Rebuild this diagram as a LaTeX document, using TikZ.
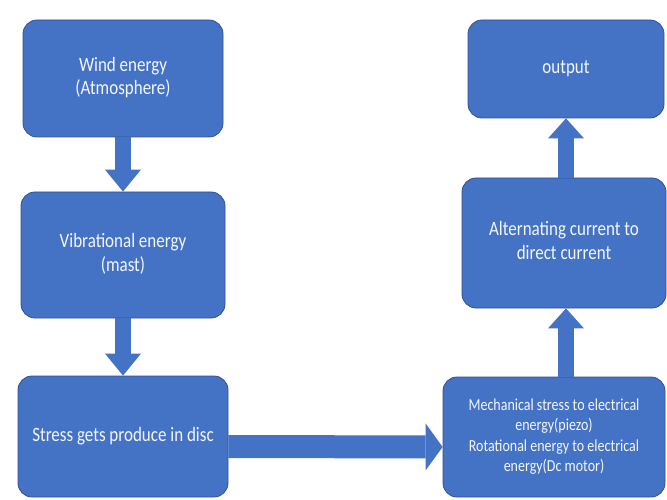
\documentclass[tikz,border=0pt]{standalone}
\usepackage{fontspec}
\setmainfont{Carlito}
\usetikzlibrary{calc,arrows.meta}
\definecolor{boxblue}{RGB}{68,114,196}
\definecolor{boxline}{RGB}{47,82,143}
\newcommand{\boxtext}[1]{\scalebox{1}[1.2]{\begin{tabular}{@{}c@{}}#1\end{tabular}}}

\begin{document}
\begin{tikzpicture}[x=1pt,y=-1pt,
  box/.style={draw=boxline,line width=0.8pt,fill=boxblue,rounded corners=14pt,
    text=white!94!boxblue,align=center,inner sep=0pt,font=\fontsize{17}{19.5}\selectfont},
  bigarrow/.style={draw=boxblue,line width=16pt,-{Triangle[length=22pt,width=36pt,line width=0pt]}}]
\useasboundingbox (0,0) rectangle (667,500);
\node[box,minimum width=200pt,minimum height=117pt] (wind) at (123,78.5) {\boxtext{Wind energy\\(Atmosphere)}};
\node[box,minimum width=204pt,minimum height=126pt] (vib) at (123,255) {\boxtext{Vibrational energy\\(mast)}};
\node[box,minimum width=210pt,minimum height=121pt] (stress) at (123,436.5) {\boxtext{Stress gets produce in disc}};
\node[box,minimum width=222pt,minimum height=120pt,font=\fontsize{14}{17}\selectfont] (mech) at (554,437)
  {\boxtext{Mechanical stress to electrical\\energy(piezo)\\Rotational energy to electrical\\energy(Dc motor)}};
\node[box,minimum width=204pt,minimum height=130pt] (acdc) at (564,243) {\boxtext{Alternating current to\\direct current}};
\node[box,minimum width=196pt,minimum height=98pt] (out) at (566,69) {\boxtext{output}};
\draw[bigarrow] (wind.south) -- (wind.south |- vib.north);
\draw[bigarrow] (vib.south) -- (vib.south |- stress.north);
\draw[bigarrow,line width=23pt,-{Triangle[length=17pt,width=47pt,line width=0pt]}]
  ($(stress.east)+(0,10)$) -- ($(mech.west)+(0,10)$);
\draw[bigarrow,-{Triangle[length=20pt,width=36pt,line width=0pt]}] (mech.north -| out) -- (out |- acdc.south);
\draw[bigarrow,-{Triangle[length=20pt,width=36pt,line width=0pt]}] (out |- acdc.north) -- (out.south);
\end{tikzpicture}
\end{document}
